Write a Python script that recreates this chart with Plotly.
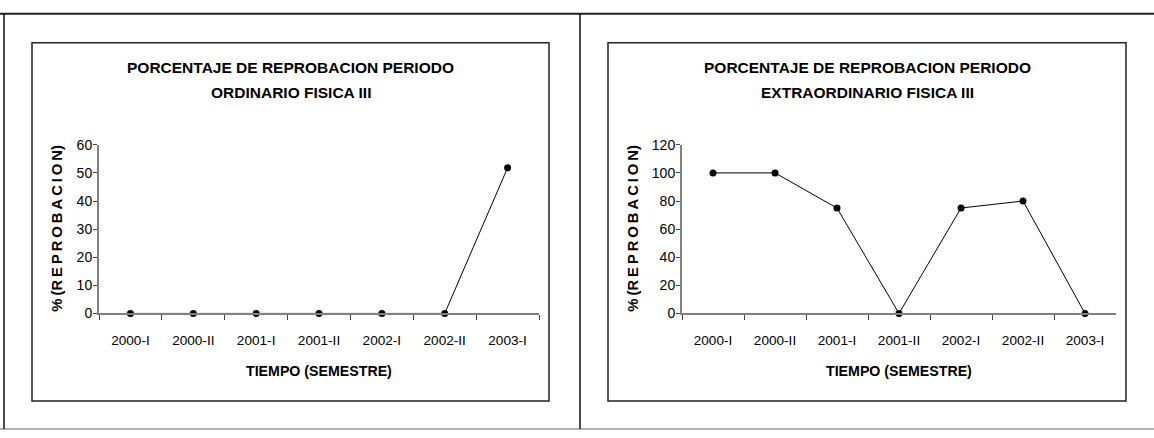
import plotly.graph_objects as go

# ---- data ----
semestres = ["2000-I", "2000-II", "2001-I", "2001-II", "2002-I", "2002-II", "2003-I"]
reprob_ordinario = [0, 0, 0, 0, 0, 0, 51.8]
reprob_extraordinario = [100, 100, 75, 0, 75, 80, 0]
titulo_ord = ["PORCENTAJE DE REPROBACION PERIODO", "ORDINARIO FISICA III"]
titulo_ext = ["PORCENTAJE DE REPROBACION PERIODO", "EXTRAORDINARIO FISICA III"]
titulo_x = "TIEMPO (SEMESTRE)"
titulo_y = "%\u2009(R\u2009E\u2009P\u2009R\u2009O\u2009B\u2009A\u2009C\u2009I\u2009O\u2009N)"

W, H = 1154, 438
FONT = "Liberation Sans, Arial, sans-serif"


def px(x):
    return x / W


def py(y):
    return 1 - y / H


fig = go.Figure()
line_style = dict(color="black", width=1)
marker_style = dict(color="black", size=7)
fig.add_trace(go.Scatter(x=semestres, y=reprob_ordinario, mode="lines+markers",
                         line=line_style, marker=marker_style, cliponaxis=False,
                         xaxis="x", yaxis="y", showlegend=False))
fig.add_trace(go.Scatter(x=semestres, y=reprob_extraordinario, mode="lines+markers",
                         line=line_style, marker=marker_style, cliponaxis=False,
                         xaxis="x2", yaxis="y2", showlegend=False))

xcommon = dict(type="category", tickson="boundaries", ticks="outside", ticklen=5,
               tickcolor="#444", tickwidth=1, showline=True, linecolor="#808080",
               linewidth=2, showgrid=False, zeroline=False, range=[-0.5, 6.5],
               tickfont=dict(family=FONT, size=13.6, color="black"),
               ticklabelstandoff=13, fixedrange=True)
ycommon = dict(ticks="outside", ticklen=4, tickcolor="#444", tickwidth=1,
               showline=True, linecolor="#808080", linewidth=2, showgrid=False,
               zeroline=False, tickfont=dict(family=FONT, size=14, color="black"),
               ticklabelstandoff=-2, fixedrange=True)
ydom = [py(317), py(142)]

fig.update_layout(
    width=W, height=H, margin=dict(l=0, r=0, t=0, b=0),
    paper_bgcolor="white", plot_bgcolor="white",
    xaxis=dict(domain=[px(99), px(539)], anchor="y", **xcommon),
    yaxis=dict(domain=ydom, anchor="x", range=[0, 60], dtick=10, **ycommon),
    xaxis2=dict(domain=[px(682), px(1116)], anchor="y2", **xcommon),
    yaxis2=dict(domain=ydom, anchor="x2", range=[0, 120], dtick=20, **ycommon),
)

shapes = []
# outer frame
shapes.append(dict(type="line", x0=0, x1=px(W), y0=py(6), y1=py(6), line=dict(color="#222", width=2)))
shapes.append(dict(type="line", x0=0, x1=px(W), y0=py(437), y1=py(437), line=dict(color="#999", width=1.5)))
shapes.append(dict(type="line", x0=px(4), x1=px(4), y0=py(6), y1=py(437), line=dict(color="#111", width=1.5)))
shapes.append(dict(type="line", x0=px(580), x1=px(580), y0=py(6), y1=py(437), line=dict(color="#111", width=1.5)))
# chart boxes
for x0, x1 in [(32, 549), (608, 1126)]:
    shapes.append(dict(type="rect", x0=px(x0), x1=px(x1), y0=py(408), y1=py(36),
                       line=dict(color="#222", width=1.5)))
for s in shapes:
    s.update(xref="paper", yref="paper", layer="below")
fig.update_layout(shapes=shapes)

ann = []
for cx, lines, xt, yt in [(290.5, titulo_ord, 319, 57), (867, titulo_ext, 899, 633)]:
    for ly, txt in zip([62, 88], lines):
        ann.append(dict(x=px(cx), y=py(ly), text="<b>%s</b>" % txt, showarrow=False,
                        xanchor="center", yanchor="middle",
                        font=dict(family=FONT, size=15.5, color="black")))
    ann.append(dict(x=px(xt), y=py(377), text="<b>%s</b>" % titulo_x, showarrow=False,
                    xanchor="center", yanchor="middle",
                    font=dict(family=FONT, size=14.2, color="black")))
    ann.append(dict(x=px(yt), y=py(229), text="<b>%s</b>" % titulo_y, showarrow=False,
                    textangle=-90, xanchor="center", yanchor="middle",
                    font=dict(family=FONT, size=14.8, color="black")))
for a in ann:
    a.update(xref="paper", yref="paper")
fig.update_layout(annotations=ann)

fig.write_html("out.html")
